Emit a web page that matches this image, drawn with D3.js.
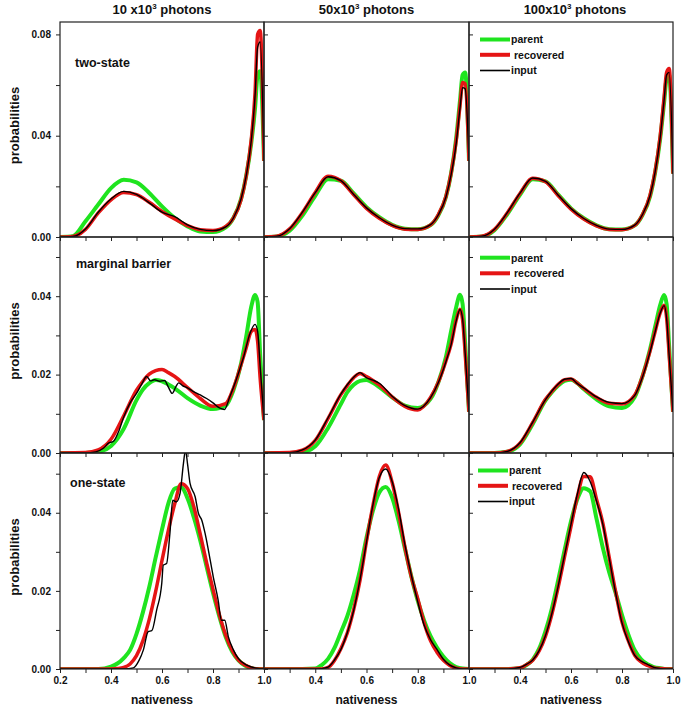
<!DOCTYPE html>
<html><head><meta charset="utf-8">
<script src="https://cdn.jsdelivr.net/npm/d3@7"></script>
<style>
body{margin:0;background:#fff}
svg text{font-family:Arial,"Liberation Sans",sans-serif;font-weight:bold;fill:#111}
</style>
</head><body><svg id="c" width="681" height="707"></svg>
<script>
// ---------- DATA ----------
const columnTitles = ["10 x10", "50x10", "100x10"];
const rowLabels = ["two-state", "marginal barrier", "one-state"];
const seriesNames = ["parent", "recovered", "input"];
const xTicks = [0.2, 0.3, 0.4, 0.5, 0.6, 0.7, 0.8, 0.9, 1.0];
const xTickLabelsFirst = [0.2, 0.4, 0.6, 0.8, 1.0];
const xTickLabelsOther = [0.4, 0.6, 0.8, 1.0];
const yTicksTop = [0, 0.02, 0.04, 0.06, 0.08];
const yTickLabelsTop = [0, 0.04, 0.08];
const yTicksLow = [0, 0.01, 0.02, 0.03, 0.04, 0.05];
const yTickLabelsLow = [0, 0.02, 0.04];
const yMax = [0.0849, 0.0551, 0.0553];

// x grids
const nativenessTop = [0.20,0.25,0.30,0.35,0.40,0.45,0.50,0.55,0.60,0.65,0.70,0.75,0.80,0.85,0.88,0.91,0.93,0.95,0.965,0.975,0.985,1.00];
const nativenessMid = [0.20,0.30,0.35,0.40,0.45,0.50,0.525,0.55,0.575,0.60,0.625,0.65,0.70,0.75,0.80,0.85,0.88,0.91,0.93,0.95,0.965,0.975,0.985,1.00];
const nativenessBot = [0.20,0.35,0.40,0.425,0.45,0.475,0.50,0.525,0.55,0.575,0.60,0.625,0.65,0.675,0.70,0.725,0.75,0.775,0.80,0.825,0.85,0.875,0.90,0.925,0.95,0.975,1.00];

// two-state
const parent2s10    = [0,0.0003,0.0062,0.0128,0.0193,0.0226,0.0216,0.0174,0.0121,0.0075,0.0042,0.0022,0.0020,0.0038,0.0075,0.0150,0.0240,0.0370,0.0510,0.0640,0.0655,0.030];
const recovered2s10 = [0,0.0002,0.0030,0.0095,0.0147,0.0176,0.0167,0.0137,0.0101,0.0071,0.0045,0.0029,0.0026,0.0042,0.0075,0.0147,0.0240,0.0384,0.0570,0.0800,0.0815,0.030];
const input2s10     = [0,0.0002,0.0032,0.0098,0.0150,0.0180,0.0168,0.0135,0.0098,0.0080,0.0048,0.0030,0.0025,0.0040,0.0075,0.0150,0.0240,0.0380,0.0560,0.0750,0.0770,0.030];
const parent2s50    = [0,0.0002,0.0025,0.0085,0.0163,0.0228,0.0222,0.0172,0.0118,0.0078,0.0048,0.0033,0.0031,0.0047,0.0085,0.0158,0.0250,0.0390,0.0540,0.0640,0.0650,0.030];
const recovered2s50 = [0,0.0003,0.0032,0.0097,0.0176,0.0240,0.0222,0.0167,0.0113,0.0074,0.0046,0.0031,0.0030,0.0048,0.0088,0.0160,0.0250,0.0380,0.0520,0.0610,0.0605,0.030];
const input2s50     = [0,0.0003,0.0033,0.0098,0.0175,0.0238,0.0223,0.0168,0.0115,0.0076,0.0047,0.0033,0.0032,0.0049,0.0087,0.0158,0.0245,0.0370,0.0510,0.0590,0.0585,0.030];
const parent2s100   = [0,0.0002,0.0027,0.0090,0.0167,0.0228,0.0220,0.0167,0.0113,0.0074,0.0046,0.0031,0.0030,0.0046,0.0086,0.0160,0.0255,0.0390,0.0530,0.0625,0.0640,0.025];
const recovered2s100= [0,0.0003,0.0030,0.0095,0.0172,0.0232,0.0218,0.0163,0.0110,0.0071,0.0044,0.0030,0.0029,0.0046,0.0088,0.0165,0.0260,0.0400,0.0550,0.0650,0.0665,0.025];
const input2s100    = [0,0.0003,0.0031,0.0096,0.0173,0.0233,0.0220,0.0165,0.0112,0.0073,0.0046,0.0031,0.0030,0.0047,0.0088,0.0163,0.0257,0.0395,0.0540,0.0640,0.0650,0.025];

// marginal barrier
const parentMB10    = [0,0,0.0003,0.0018,0.0062,0.0135,0.0162,0.0178,0.0186,0.0183,0.0175,0.0165,0.0140,0.0121,0.0112,0.0121,0.0160,0.0228,0.0296,0.0373,0.0403,0.0385,0.0250,0.0084];
const recoveredMB10 = [0,0.0001,0.0008,0.0035,0.0095,0.0160,0.0183,0.0201,0.0210,0.0213,0.0205,0.0195,0.0167,0.0139,0.0119,0.0126,0.0165,0.0225,0.0268,0.0310,0.0315,0.0285,0.0190,0.0084];
const nativenessMB10input = [0.20,0.30,0.34,0.37,0.39,0.41,0.43,0.45,0.475,0.50,0.52,0.54,0.555,0.57,0.59,0.61,0.625,0.64,0.655,0.665,0.68,0.70,0.72,0.75,0.775,0.80,0.825,0.845,0.865,0.89,0.92,0.945,0.965,0.975,0.985,1.00];
const inputMB10     = [0,0,0.0003,0.0012,0.0025,0.0030,0.0055,0.0092,0.0128,0.0152,0.0175,0.0195,0.0184,0.0187,0.0183,0.0185,0.0168,0.0152,0.0170,0.0179,0.0172,0.0166,0.0158,0.0148,0.0139,0.0128,0.0115,0.0111,0.0142,0.0185,0.0245,0.0305,0.0328,0.0310,0.0220,0.0084];
const parentMB50    = [0,0,0.0002,0.0017,0.0064,0.0125,0.0155,0.0174,0.0184,0.0186,0.0179,0.0168,0.0142,0.0121,0.0115,0.0138,0.0180,0.0245,0.0310,0.0372,0.0404,0.0380,0.0280,0.0105];
const recoveredMB50 = [0,0.0001,0.0007,0.0032,0.0088,0.0149,0.0172,0.0192,0.0203,0.0195,0.0185,0.0174,0.0143,0.0119,0.0110,0.0142,0.0180,0.0235,0.0277,0.0339,0.0367,0.0340,0.0255,0.0105];
const inputMB50     = [0,0.0001,0.0008,0.0033,0.0090,0.0150,0.0174,0.0193,0.0205,0.0192,0.0186,0.0178,0.0145,0.0121,0.0112,0.0141,0.0179,0.0233,0.0276,0.0337,0.0366,0.0342,0.0255,0.0105];
const parentMB100   = [0,0,0.0003,0.0022,0.0074,0.0134,0.0155,0.0172,0.0184,0.0187,0.0178,0.0163,0.0137,0.0119,0.0115,0.0143,0.0195,0.0265,0.0322,0.0378,0.0403,0.0380,0.0270,0.0105];
const recoveredMB100= [0,0,0.0004,0.0025,0.0078,0.0137,0.0157,0.0175,0.0187,0.0189,0.0178,0.0165,0.0142,0.0127,0.0125,0.0148,0.0195,0.0260,0.0310,0.0358,0.0377,0.0345,0.0250,0.0105];
const inputMB100    = [0,0,0.0004,0.0026,0.0079,0.0136,0.0158,0.0176,0.0188,0.0190,0.0177,0.0166,0.0143,0.0129,0.0126,0.0147,0.0193,0.0258,0.0309,0.0357,0.0376,0.0343,0.0248,0.0105];

// one-state
const parentOS10    = [0,0,0.0006,0.0014,0.0028,0.0049,0.0090,0.0145,0.0210,0.0285,0.0357,0.0424,0.0462,0.0465,0.0437,0.0388,0.0329,0.0262,0.0195,0.0134,0.0082,0.0045,0.0022,0.0009,0.0002,0,0];
const recoveredOS10 = [0,0,0,0.0001,0.0004,0.0013,0.0034,0.0072,0.0127,0.0198,0.0278,0.0355,0.0423,0.0474,0.0462,0.0415,0.0345,0.0272,0.0204,0.0139,0.0086,0.0048,0.0023,0.0010,0.0003,0,0];
const nativenessOS10input = [0.20,0.45,0.488,0.51,0.527,0.546,0.56,0.579,0.599,0.605,0.618,0.631,0.642,0.657,0.671,0.684,0.692,0.70,0.71,0.73,0.743,0.756,0.769,0.782,0.801,0.82,0.833,0.846,0.86,0.88,0.899,0.932,0.971,1.00];
const inputOS10     = [0,0,0.0003,0.0022,0.0049,0.0096,0.0098,0.0151,0.0219,0.0266,0.0270,0.0347,0.0432,0.0428,0.0450,0.0526,0.0560,0.0526,0.0475,0.0441,0.0398,0.0381,0.0347,0.0304,0.0236,0.0177,0.0125,0.0125,0.0083,0.0049,0.0027,0.0010,0.0002,0];
const parentOS50    = [0,0,0.0001,0.0010,0.0026,0.0054,0.0094,0.0135,0.0190,0.0255,0.0336,0.0405,0.0452,0.0466,0.0439,0.0380,0.0308,0.0237,0.0175,0.0124,0.0084,0.0055,0.0032,0.0015,0.0005,0.0001,0];
const recoveredOS50 = [0,0,0,0,0.0004,0.0022,0.0052,0.0092,0.0152,0.0228,0.0327,0.0418,0.0493,0.0522,0.0478,0.0402,0.0312,0.0236,0.0180,0.0118,0.0072,0.0043,0.0022,0.0009,0.0002,0,0];
const inputOS50     = [0,0,0,0.0001,0.0005,0.0023,0.0050,0.0093,0.0150,0.0230,0.0325,0.0420,0.0490,0.0512,0.0480,0.0410,0.0318,0.0240,0.0172,0.0112,0.0075,0.0050,0.0025,0.0010,0.0003,0,0];
const parentOS100   = [0,0,0.0002,0.0010,0.0024,0.0052,0.0097,0.0155,0.0228,0.0305,0.0378,0.0435,0.0463,0.0455,0.0385,0.0310,0.0247,0.0195,0.0138,0.0088,0.0048,0.0025,0.0012,0.0005,0.0002,0,0];
const recoveredOS100= [0,0,0.0003,0.0011,0.0022,0.0046,0.0084,0.0140,0.0210,0.0288,0.0365,0.0442,0.0493,0.0492,0.0435,0.0373,0.0285,0.0198,0.0120,0.0072,0.0035,0.0018,0.0009,0.0003,0.0001,0,0];
const inputOS100    = [0,0,0.0004,0.0012,0.0023,0.0047,0.0086,0.0142,0.0213,0.0292,0.0370,0.0448,0.0503,0.0480,0.0430,0.0370,0.0283,0.0195,0.0118,0.0070,0.0035,0.0020,0.0012,0.0004,0.0001,0,0];

// ---------- LAYOUT ----------
const colEdges = [60, 264, 469, 673];
const rowEdges = [22, 237, 453, 669];
const colors = {parent: "#1fe41f", recovered: "#e51515", input: "#000000"};
const widths = {parent: 4, recovered: 3.5, input: 1.4};

const panels = [
  [[nativenessTop,parent2s10],[nativenessTop,recovered2s10],[nativenessTop,input2s10]],
  [[nativenessTop,parent2s50],[nativenessTop,recovered2s50],[nativenessTop,input2s50]],
  [[nativenessTop,parent2s100],[nativenessTop,recovered2s100],[nativenessTop,input2s100]],
  [[nativenessMid,parentMB10],[nativenessMid,recoveredMB10],[nativenessMB10input,inputMB10]],
  [[nativenessMid,parentMB50],[nativenessMid,recoveredMB50],[nativenessMid,inputMB50]],
  [[nativenessMid,parentMB100],[nativenessMid,recoveredMB100],[nativenessMid,inputMB100]],
  [[nativenessBot,parentOS10],[nativenessBot,recoveredOS10],[nativenessOS10input,inputOS10]],
  [[nativenessBot,parentOS50],[nativenessBot,recoveredOS50],[nativenessBot,inputOS50]],
  [[nativenessBot,parentOS100],[nativenessBot,recoveredOS100],[nativenessBot,inputOS100]]
];

const svg = d3.select("#c");
const fmt = d3.format(".2f");

for (let r = 0; r < 3; r++) {
  const y = d3.scaleLinear().domain([0, yMax[r]]).range([rowEdges[r+1], rowEdges[r]]);
  const yT = r === 0 ? yTicksTop : yTicksLow;
  const yL = r === 0 ? yTickLabelsTop : yTickLabelsLow;
  for (let c = 0; c < 3; c++) {
    const x = d3.scaleLinear().domain([0.2, 1.0]).range([colEdges[c], colEdges[c+1]]);
    const g = svg.append("g");
    const cid = "clip" + r + c;
    svg.append("clipPath").attr("id", cid).append("rect")
      .attr("x", colEdges[c]).attr("y", rowEdges[r])
      .attr("width", colEdges[c+1]-colEdges[c]).attr("height", rowEdges[r+1]-rowEdges[r]);

    // bottom axis (ticks outward)
    const xl = c === 0 ? xTickLabelsFirst : xTickLabelsOther;
    const xa = d3.axisBottom(x).tickValues(xTicks).tickSize(4).tickPadding(4)
      .tickFormat(d => (r === 2 && xl.some(v => Math.abs(v-d) < 1e-9)) ? d3.format(".1f")(d) : "");
    const gx = g.append("g").attr("transform", `translate(0,${rowEdges[r+1]})`).call(xa);
    gx.select(".domain").remove();
    gx.selectAll("line").attr("stroke", "#222");
    gx.selectAll("text").style("font-size", "10px").style("font-family", "Arial, 'Liberation Sans', sans-serif").style("font-weight","bold").attr("fill", "#111");

    // y axis
    let ya;
    if (c === 0) {
      ya = d3.axisLeft(y).tickValues(yT).tickSize(4).tickPadding(5)
        .tickFormat(d => yL.some(v => Math.abs(v-d) < 1e-9) ? fmt(d) : "");
    } else {
      ya = d3.axisRight(y).tickValues(yT).tickSize(4).tickFormat("");
    }
    const gy = g.append("g").attr("transform", `translate(${colEdges[c]},0)`).call(ya);
    gy.select(".domain").remove();
    gy.selectAll("line").attr("stroke", "#222");
    gy.selectAll("text").style("font-size", "10px").style("font-family", "Arial, 'Liberation Sans', sans-serif").style("font-weight","bold").attr("fill", "#111");

    // curves
    const sers = panels[r*3 + c];
    const lines = g.append("g").attr("clip-path", `url(#${cid})`);
    sers.forEach((s, i) => {
      const name = seriesNames[i];
      const pts = s[0].map((xv, k) => [xv, s[1][k]]);
      const line = d3.line().x(d => x(d[0])).y(d => y(d[1])).curve(d3.curveMonotoneX);
      lines.append("path").attr("d", line(pts)).attr("fill", "none")
        .attr("stroke", colors[name]).attr("stroke-width", widths[name])
        .attr("stroke-linejoin", "round");
    });

    // frame
    g.append("rect").attr("x", colEdges[c]).attr("y", rowEdges[r])
      .attr("width", colEdges[c+1]-colEdges[c]).attr("height", rowEdges[r+1]-rowEdges[r])
      .attr("fill", "none").attr("stroke", "#222").attr("stroke-width", 1.2);

    // legend
    if (c === 2) {
      const offs = r === 1 ? [20.7, 36.3, 52] : [17.5, 32.8, 48.5];
      const lx0 = r === 2 ? 478 : 480;
      seriesNames.forEach((n, i) => {
        const ly = rowEdges[r] + offs[i];
        g.append("line").attr("x1", lx0).attr("x2", lx0 + 30).attr("y1", ly).attr("y2", ly)
          .attr("stroke", colors[n]).attr("stroke-width", n === "input" ? 1.6 : 4);
        g.append("text").attr("x", lx0 + 31 + (n === "recovered" ? 3 : 0)).attr("y", ly + 3.8)
          .style("font-size", "10.5px").text(n);
      });
    }
  }
  // row label
  const lbl = [[75, 44.5], [76, 30.7], [70, 34]][r];
  svg.append("text").attr("x", lbl[0]).attr("y", rowEdges[r] + lbl[1]).style("font-size", "12.5px").text(rowLabels[r]);
  // y title
  const cy = (rowEdges[r] + rowEdges[r+1]) / 2 - 4;
  svg.append("text").attr("transform", `translate(19,${cy}) rotate(-90)`).attr("text-anchor", "middle")
    .style("font-size", "13px").text("probabilities");
}

// column titles
columnTitles.forEach((t, c) => {
  const cx = (colEdges[c] + colEdges[c+1]) / 2 + (c === 2 ? 4 : 0);
  const tx = svg.append("text").attr("x", cx).attr("y", 14).attr("text-anchor", "middle").style("font-size", "13px");
  tx.append("tspan").text(t);
  tx.append("tspan").attr("dy", -5).style("font-size", "8px").text("3");
  tx.append("tspan").attr("dy", 5).text(" photons");
});

// x titles
for (let c = 0; c < 3; c++) {
  svg.append("text").attr("x", (colEdges[c] + colEdges[c+1]) / 2).attr("y", 704)
    .attr("text-anchor", "middle").style("font-size", "12px").text("nativeness");
}
</script></body></html>
